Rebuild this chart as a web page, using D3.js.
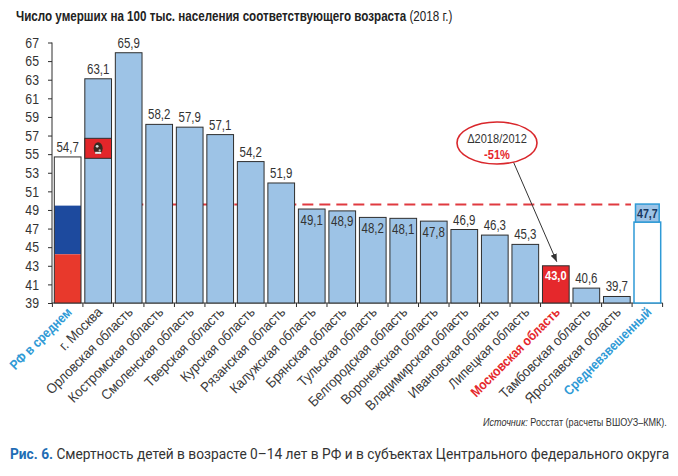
<!DOCTYPE html>
<html>
<head>
<meta charset="utf-8">
<script src="https://cdn.jsdelivr.net/npm/d3@7"></script>
<style>
  html, body { margin: 0; padding: 0; background: #fff; }
  svg { display: block; }
  text { font-family: "Liberation Sans", Arial, sans-serif; }
</style>
</head>
<body>
<svg id="chart" width="678" height="476"></svg>
<script>
// ---------- data ----------
const categories = [
  "РФ в среднем", "г. Москва", "Орловская область", "Костромская область",
  "Смоленская область", "Тверская область", "Курская область", "Рязанская область",
  "Калужская область", "Брянская область", "Тульская область", "Белгородская область",
  "Воронежская область", "Владимирская область", "Ивановская область", "Липецкая область",
  "Московская область", "Тамбовская область", "Ярославская область", "Средневзвешенный"
];
const values = [
  54.7, 63.1, 65.9, 58.2, 57.9, 57.1, 54.2, 51.9, 49.1, 48.9,
  48.2, 48.1, 47.8, 46.9, 46.3, 45.3, 43.0, 40.6, 39.7, 47.7
];
const yTicks = [39, 41, 43, 45, 47, 49, 51, 53, 55, 57, 59, 61, 63, 65, 67];
const refLine = 49.6;               // red dashed reference level
const moscowEmblem = [54.55, 56.7]; // red emblem band on Moscow bar
const changeLabel = "Δ2018/2012";
const changeValue = "-51%";
const titleBold = "Число умерших на 100 тыс. населения соответствующего возраста";
const titleNormal = " (2018 г.)";
const sourceLabel = "Источник:";
const sourceText = " Росстат (расчеты ВШОУЗ–КМК).";
const captionBold = "Рис. 6.";
const captionText = " Смертность детей в возрасте 0–14 лет в РФ и в субъектах Центрального федерального округа";

// ---------- styles ----------
const C = {
  bar: "#9dc3e6", stroke: "#2e2e2e", text: "#333",
  red: "#e5282c", blue: "#1d4a9e", lightBlue: "#2f9ad6", navy: "#17375e"
};
const NARROW = 0.82; // condensed look
const svg = d3.select("#chart");
const x = d3.scaleBand().domain(categories).range([52.4, 662.6]).paddingInner(0.125).paddingOuter(0.0625);
const y = d3.scaleLinear().domain([39, 67]).range([303, 42.5]);
const fmt = v => d3.format(".1f")(v).replace(".", ",");
const iRF = 0, iMsk = 1, iMO = 16, iAvg = categories.length - 1;

// narrow text helper: places text at (px,py) with horizontal condensing
function ntext(parent, px, py, str, extra = "", k = NARROW) {
  return parent.append("text").attr("transform", `translate(${px},${py}) ${extra} scale(${k},1)`).text(str);
}
// fit a text element to a target width
function fitWidth(sel, px, py, width) {
  const w = sel.node().getBBox().width;
  sel.attr("transform", `translate(${px},${py}) scale(${width / w},1)`);
}

// title
const t = svg.append("text").attr("font-size", 14).attr("fill", "#222");
t.append("tspan").attr("font-weight", "bold").text(titleBold);
t.append("tspan").text(titleNormal);
fitWidth(t, 16, 21, 437);

// axes
const g = svg.append("g");
g.append("line").attr("x1", 52).attr("x2", 52).attr("y1", y(67)).attr("y2", y(39)).attr("stroke", C.stroke);
g.append("line").attr("x1", 52).attr("x2", 662.6).attr("y1", y(39)).attr("y2", y(39)).attr("stroke", C.stroke);
const yAxis = d3.axisLeft(y).tickValues(yTicks).tickSize(4).tickPadding(9).tickFormat(d3.format("d"));
g.append("g").attr("transform", "translate(52,0)").call(yAxis)
  .call(s => s.select(".domain").remove())
  .call(s => s.selectAll("line").attr("stroke", C.stroke))
  .call(s => s.selectAll("text").attr("font-size", 15).attr("fill", C.text)
    .attr("font-family", "'Liberation Sans', Arial, sans-serif")
    .each(function () {
      const tx = +d3.select(this).attr("x");
      d3.select(this).attr("x", 0).attr("transform", `translate(${tx},0) scale(${NARROW},1)`);
    }));
// x ticks at band boundaries
const step = x.step();
const x0 = x(categories[0]) - step * x.paddingOuter();
g.selectAll(".xt").data(d3.range(categories.length + 1)).join("line")
  .attr("x1", i => x0 + i * step).attr("x2", i => x0 + i * step)
  .attr("y1", y(39)).attr("y2", y(39) + 4).attr("stroke", C.stroke);

// dashed reference line (behind bars)
svg.append("line")
  .attr("x1", x(categories[2])).attr("x2", x(categories[iAvg]) - 3)
  .attr("y1", y(refLine)).attr("y2", y(refLine))
  .attr("stroke", "#e03a40").attr("stroke-width", 2).attr("stroke-dasharray", "11,6");

// bars
const bars = svg.append("g");
values.forEach((v, i) => {
  const bx = x(categories[i]), bw = x.bandwidth();
  if (i === iRF) {
    const third = (v - 39) / 3;
    [[39 + 2 * third, v, "#fff"], [39 + third, 39 + 2 * third, C.blue], [39, 39 + third, "#e8392c"]]
      .forEach(([a, b, c]) => bars.append("rect").attr("x", bx).attr("width", bw)
        .attr("y", y(b)).attr("height", y(a) - y(b)).attr("fill", c));
    bars.append("rect").attr("x", bx).attr("width", bw).attr("y", y(v)).attr("height", y(39) - y(v))
      .attr("fill", "none").attr("stroke", C.stroke);
  } else if (i === iAvg) {
    bars.append("rect").attr("x", bx).attr("width", bw).attr("y", y(v)).attr("height", y(39) - y(v))
      .attr("fill", "#fff").attr("stroke", C.lightBlue).attr("stroke-width", 1.5);
  } else {
    bars.append("rect").attr("x", bx).attr("width", bw).attr("y", y(v)).attr("height", y(39) - y(v))
      .attr("fill", i === iMO ? C.red : C.bar).attr("stroke", C.stroke);
  }
});

// Moscow emblem band
{
  const bx = x(categories[iMsk]), bw = x.bandwidth();
  const y0 = y(moscowEmblem[1]), y1 = y(moscowEmblem[0]);
  svg.append("rect").attr("x", bx).attr("width", bw).attr("y", y0).attr("height", y1 - y0)
    .attr("fill", "#e3262a").attr("stroke", C.stroke);
  const cx = bx + bw / 2, cy = (y0 + y1) / 2;
  svg.append("ellipse").attr("cx", cx).attr("cy", cy).attr("rx", 4.5).attr("ry", 6).attr("fill", "#3a2a22");
  svg.append("circle").attr("cx", cx - 1).attr("cy", cy - 2).attr("r", 1.4).attr("fill", "#ddd");
  svg.append("circle").attr("cx", cx + 1.5).attr("cy", cy + 2).attr("r", 1.1).attr("fill", "#bbb");
  svg.append("rect").attr("x", cx - 3).attr("y", cy + 3.5).attr("width", 6).attr("height", 2).attr("fill", "#eee");
}

// value labels
const labels = svg.append("g").attr("font-size", 14).attr("text-anchor", "middle");
values.forEach((v, i) => {
  const cx = x(categories[i]) + x.bandwidth() / 2;
  if (i === iAvg) {
    const bx = x(categories[i]), bw = x.bandwidth();
    labels.append("rect").attr("x", bx + 1.5).attr("width", bw - 3).attr("y", y(v) - 18).attr("height", 18)
      .attr("fill", C.bar).attr("stroke", C.lightBlue).attr("stroke-width", 1.5);
    ntext(labels, cx, y(v) - 4.5, fmt(v)).attr("font-weight", "bold")
      .attr("fill", C.navy).attr("font-size", 13);
  } else if (i === iMO) {
    ntext(labels, cx, y(v) + 14, fmt(v)).attr("font-weight", "bold").attr("fill", "#fff").attr("font-size", 13.5);
  } else if (v < refLine && v > refLine - 2.5) {
    ntext(labels, cx, y(v) + 15.5, fmt(v)).attr("fill", C.text);
  } else {
    ntext(labels, cx, y(v) - 5, fmt(v)).attr("fill", C.text);
  }
});

// category labels
const xl = svg.append("g");
categories.forEach((c, i) => {
  const cx = x(c) + x.bandwidth() / 2 + 5;
  const special = i === iRF || i === iAvg ? C.lightBlue : (i === iMO ? C.red : null);
  ntext(xl, cx, y(39) + 10, c, "rotate(-45)", special ? 0.87 : 0.92)
    .attr("text-anchor", "end")
    .attr("font-size", special ? 13.5 : 14)
    .attr("fill", special || "#3a3a3a")
    .attr("font-weight", special ? "bold" : "normal");
});

// annotation
{
  const ex = 497, ey = 143;
  const tx = x(categories[iMO]) + x.bandwidth() / 2 + 1, ty = y(values[iMO]) - 4;
  const defs = svg.append("defs");
  defs.append("marker").attr("id", "arr").attr("viewBox", "0 0 10 10").attr("refX", 10).attr("refY", 5)
    .attr("markerWidth", 8).attr("markerHeight", 8).attr("orient", "auto-start-reverse")
    .append("path").attr("d", "M0,1 L10,5 L0,9 Z").attr("fill", "#333");
  svg.append("line").attr("x1", 513).attr("y1", 161).attr("x2", tx).attr("y2", ty)
    .attr("stroke", "#333").attr("stroke-width", 1).attr("marker-end", "url(#arr)");
  svg.append("ellipse").attr("cx", ex).attr("cy", ey).attr("rx", 40).attr("ry", 21)
    .attr("fill", "#fff").attr("stroke", "#d9262b").attr("stroke-width", 1.6);
  ntext(svg, ex, ey, changeLabel).attr("text-anchor", "middle").attr("font-size", 13.5)
    .attr("fill", C.text);
  ntext(svg, ex, ey + 16, changeValue).attr("text-anchor", "middle").attr("font-size", 13.5)
    .attr("font-weight", "bold").attr("fill", C.red);
}

// source
const s = svg.append("text").attr("text-anchor", "start").attr("font-size", 10).attr("fill", "#333");
s.append("tspan").attr("font-style", "italic").text(sourceLabel);
s.append("tspan").text(sourceText);
fitWidth(s, 483, 426, 184);

// caption
const cap = svg.append("text").attr("font-size", 14.5).attr("fill", "#333")
  .style("font-family", "Roboto, 'Liberation Sans', sans-serif");
cap.append("tspan").attr("font-weight", "bold").attr("fill", "#1f6db5").text(captionBold);
cap.append("tspan").text(captionText);
fitWidth(cap, 10, 459, 660);
</script>
</body>
</html>
